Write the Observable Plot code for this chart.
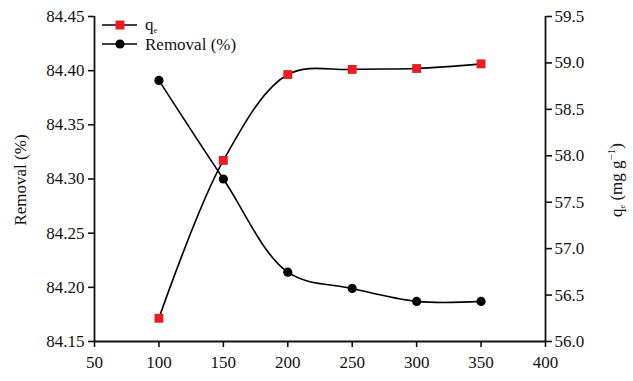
<!DOCTYPE html>
<html><head><meta charset="utf-8">
<script src="https://cdn.jsdelivr.net/npm/d3@7"></script>
<script src="https://cdn.jsdelivr.net/npm/@observablehq/plot@0.6"></script>
<style>body{margin:0;background:#fff}#chart{position:relative;width:633px;height:381px}</style>
</head><body><div id="chart"></div>
<script>
const dosage = [100, 150, 200, 250, 300, 350];
const removal = [84.391, 84.300, 84.214, 84.199, 84.187, 84.187];
const qe = [56.25, 57.95, 58.875, 58.93, 58.94, 58.99];
const xTicks = [50, 100, 150, 200, 250, 300, 350, 400];
const yTicks = [84.15, 84.20, 84.25, 84.30, 84.35, 84.40, 84.45];
const qTicks = [56.0, 56.5, 57.0, 57.5, 58.0, 58.5, 59.0, 59.5];

const Y0 = 84.15, Y1 = 84.45, Q0 = 56.0, Q1 = 59.5;
const toL = q => Y0 + (q - Q0) * (Y1 - Y0) / (Q1 - Q0);
const fromL = y => Q0 + (y - Y0) * (Q1 - Q0) / (Y1 - Y0);

const remData = dosage.map((x, i) => ({x, y: removal[i]}));
const qeData = dosage.map((x, i) => ({x, y: toL(qe[i])}));

const font = "'Liberation Serif', 'Times New Roman', serif";
const plot = Plot.plot({
  width: 633, height: 381,
  marginLeft: 94, marginRight: 88, marginTop: 16, marginBottom: 40,
  style: {fontFamily: font, fontSize: "17px", color: "#111", background: "#fff"},
  x: {domain: [50, 400]},
  y: {domain: [Y0, Y1]},
  marks: [
    Plot.axisX(xTicks, {tickSize: 6, tickPadding: 8, label: null, strokeWidth: 1.6, fontSize: 17}),
    Plot.axisY(yTicks, {anchor: "left", tickSize: 6, tickPadding: 4, tickFormat: d => d.toFixed(2), label: null, strokeWidth: 1.6, fontSize: 17}),
    Plot.axisY(qTicks.map(toL), {anchor: "right", tickSize: 6, tickPadding: 3, tickFormat: d => fromL(d).toFixed(1), label: null, strokeWidth: 1.6, fontSize: 17}),
    Plot.ruleX([50], {y1: Y0, y2: Y1, strokeWidth: 1.8}),
    Plot.ruleX([400], {y1: Y0, y2: Y1, strokeWidth: 1.8}),
    Plot.ruleY([Y0], {x1: 50, x2: 400, strokeWidth: 1.8}),
    Plot.line(remData, {x: "x", y: "y", curve: "catmull-rom", stroke: "#000", strokeWidth: 1.6}),
    Plot.line(qeData, {x: "x", y: "y", curve: "catmull-rom", stroke: "#000", strokeWidth: 1.6}),
    Plot.dot(remData, {x: "x", y: "y", r: 4.6, fill: "#000", stroke: "none"}),
    Plot.dot(qeData, {x: "x", y: "y", symbol: "square", r: 5.0, fill: "#ed1c24", stroke: "none"})
  ]
});
document.getElementById("chart").appendChild(plot);

const svg = d3.select(plot);
// legend
const lg = svg.append("g").attr("font-family", font).attr("font-size", 17).attr("fill", "#111").attr("text-anchor", "start");
lg.append("line").attr("x1", 102).attr("x2", 137).attr("y1", 25).attr("y2", 25).attr("stroke", "#000").attr("stroke-width", 1.6);
lg.append("rect").attr("x", 115.5).attr("y", 20.5).attr("width", 9).attr("height", 9).attr("fill", "#ed1c24");
const t1 = lg.append("text").attr("x", 145).attr("y", 30);
t1.append("tspan").text("q");
t1.append("tspan").attr("font-size", 8).attr("dy", 3).text("e");
lg.append("line").attr("x1", 102).attr("x2", 137).attr("y1", 44).attr("y2", 44).attr("stroke", "#000").attr("stroke-width", 1.6);
lg.append("circle").attr("cx", 120).attr("cy", 44).attr("r", 4.6).attr("fill", "#000");
lg.append("text").attr("x", 145).attr("y", 50).text("Removal (%)");

// axis titles
svg.append("text").attr("font-family", font).attr("font-size", 17).attr("fill", "#111")
  .attr("text-anchor", "middle").attr("transform", "translate(26,180) rotate(-90)").text("Removal (%)");
const rt = svg.append("text").attr("font-family", font).attr("font-size", 17).attr("fill", "#111")
  .attr("text-anchor", "middle").attr("transform", "translate(622,180) rotate(-90)");
rt.append("tspan").text("q");
rt.append("tspan").attr("font-size", 8).attr("dy", 3).text("e");
rt.append("tspan").attr("dy", -3).text(" (mg g");
rt.append("tspan").attr("font-size", 11).attr("dy", -7).text("−1");
rt.append("tspan").attr("dy", 7).text(")");
</script></body></html>
